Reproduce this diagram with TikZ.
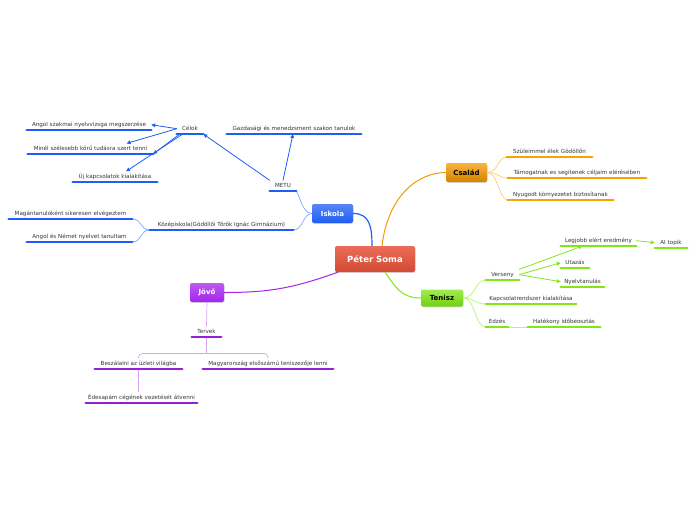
\documentclass[tikz,border=0pt]{standalone}
\usepackage{fontspec}
\setmainfont{DejaVu Sans}
\usetikzlibrary{arrows.meta,shadows}

\definecolor{peterc}{HTML}{E8533A}
\definecolor{iskolac}{HTML}{1F5EF4}
\definecolor{iskolal}{HTML}{7EA6FF}
\definecolor{csaladc}{HTML}{F79A00}
\definecolor{csaladl}{HTML}{FFCB70}
\definecolor{teniszc}{HTML}{80E614}
\definecolor{teniszl}{HTML}{B8F27E}
\definecolor{jovoc}{HTML}{A424EC}
\definecolor{jovol}{HTML}{D9A3F7}

\tikzset{
  topic/.style={rounded corners=2pt, inner sep=0pt,
    font=\fontsize{7}{8}\selectfont\bfseries,
    drop shadow={shadow xshift=0.6pt, shadow yshift=-0.8pt, opacity=0.3}},
  leaf/.style={anchor=south, inner xsep=0pt, inner ysep=2.5pt,
    text height=4.2pt, text depth=1pt, text=black!80,
    font=\fontsize{5.6}{6.5}\selectfont},
  ul/.style={line width=2.9pt, line cap=round},
  tip/.style={-{Triangle[length=4pt,width=3.6pt]}},
}

\begin{document}
\begin{tikzpicture}[x=1pt,y=-1pt]
  \useasboundingbox (0,0) rectangle (696,520);
  % main topics
  \node[topic, top color=peterc!85!white, bottom color=peterc!90!black, minimum width=80pt,
    minimum height=26pt, text=white, font=\fontsize{8.5}{9}\selectfont\bfseries] (peter) at (375,259) {Péter Soma};
  \node[topic, top color=iskolac!75!white, bottom color=iskolac, minimum width=41pt,
    minimum height=19pt, text=white] (iskola) at (332.5,213.5) {Iskola};
  \node[topic, top color=csaladc!75!white, bottom color=csaladc!85!black, minimum width=41pt,
    minimum height=19pt] (csalad) at (466.5,172.5) {Család};
  \node[topic, top color=teniszc!75!white, bottom color=teniszc!90!black, minimum width=42pt,
    minimum height=17pt] (tenisz) at (442,298) {Tenisz};
  \node[topic, top color=jovoc!75!white, bottom color=jovoc, minimum width=34pt,
    minimum height=19pt, text=white] (jovo) at (207,292.5) {Jövő};

  % Iskola
  \node[leaf, minimum width=26pt] (metu) at (283,191) {METU};
  \node[leaf, minimum width=134pt] (gazd) at (294,134) {Gazdasági és menedzsment szakon tanulok};
  \node[leaf, minimum width=26pt] (celok) at (190,134) {Célok};
  \node[leaf, minimum width=124pt] (angsz) at (89,130) {Angol szakmai nyelvvizsga megszerzése};
  \node[leaf, minimum width=125pt] (minel) at (90.5,154) {Minél szélesebb körű tudásra szert tenni};
  \node[leaf, minimum width=84pt] (ujkap) at (115,182) {Új kapcsolatok kialakítása};
  \node[leaf, minimum width=143pt] (kozep) at (221.5,230) {Középiskola(Gödöllői Török Ignác Gimnázium)};
  \node[leaf, minimum width=123pt] (magan) at (70.5,219) {Magántanulóként sikeresen elvégeztem};
  \node[leaf, minimum width=105pt] (angnem) at (79.5,242) {Angol és Német nyelvet tanultam};

  % Család
  \node[leaf, minimum width=85pt] (szul) at (549.5,157) {Szüleimmel élek Gödöllőn};
  \node[leaf, minimum width=138pt] (tamog) at (577,178) {Támogatnak es segítenek céljaim elérésében};
  \node[leaf, minimum width=105pt] (nyug) at (560.5,200) {Nyugodt környezetet biztosítanak};

  % Tenisz
  \node[leaf, minimum width=33pt] (verseny) at (502.5,280) {Verseny};
  \node[leaf, minimum width=75pt] (legjobb) at (598.5,246) {Legjobb elért eredmény};
  \node[leaf, minimum width=32pt] (aitopik) at (671,248) {AI topik};
  \node[leaf, minimum width=28pt] (utazas) at (575,268) {Utazás};
  \node[leaf, minimum width=43pt] (nyelv) at (582.5,287) {Nyelvtanulás};
  \node[leaf, minimum width=90pt] (kapcs) at (531,304) {Kapcsolatrendszer kialakítása};
  \node[leaf, minimum width=22pt] (edzes) at (497,327) {Edzés};
  \node[leaf, minimum width=72pt] (hatek) at (564,327) {Hatékony időbeosztás};

  % Jövő
  \node[leaf, minimum width=29pt] (tervek) at (206.5,337) {Tervek};
  \node[leaf, minimum width=87pt] (beszal) at (138.5,369) {Beszálalni az üzleti világba};
  \node[leaf, minimum width=111pt] (edesap) at (141.5,403) {Édesapám cégének vezetését átvenni};
  \node[leaf, minimum width=130pt] (magyar) at (268,369) {Magyarország elsőszámú teniszezője lenni};

  % main connectors
  \draw[iskolac, line width=1.2pt] (iskola.east) .. controls +(16,0) and +(0,-20) .. ([xshift=-3pt]peter.north);
  \draw[csaladc, line width=1pt] ([xshift=7pt]peter.north) .. controls +(6,-50) and +(-28,0) .. (csalad.west);
  \draw[teniszc, line width=1pt] ([xshift=10pt]peter.south) .. controls +(10,14) and +(-20,0) .. (tenisz.west);
  \draw[jovoc, line width=1pt] ([xshift=-37pt]peter.south) .. controls +(-45,16) and +(45,0) .. (jovo.east);

  % Iskola branches
  \draw[iskolal, line width=0.7pt] (iskola.west) .. controls +(-9,0) and +(4,6) .. (metu.south east);
  \draw[iskolal, line width=0.7pt] (iskola.west) .. controls +(-9,0) and +(10,0) .. (kozep.south east);
  \draw[iskolal, line width=0.7pt] (kozep.south west) .. controls +(-10,0) and +(10,0) .. (magan.south east);
  \draw[iskolal, line width=0.7pt] (kozep.south west) .. controls +(-10,0) and +(10,0) .. (angnem.south east);
  \path[tip, iskolac, line width=0.8pt] (metu.north west) edge (celok.south east)
    (metu.north) edge ([xshift=-1pt]gazd.south)
    (celok.west) edge (angsz.east)
    (celok.west) edge ([xshift=36pt]minel.north)
    ([xshift=3pt]celok.south west) edge (minel.south east)
    ([xshift=6pt]celok.south west) edge ([xshift=11pt]ujkap.north);

  % Család branches
  \draw[csaladl, line width=0.7pt] (csalad.east) .. controls +(11,0) and +(-9,0) .. (szul.south west);
  \draw[csaladl, line width=0.7pt] (csalad.east) .. controls +(11,0) and +(-9,0) .. (tamog.south west);
  \draw[csaladl, line width=0.7pt] (csalad.east) .. controls +(11,0) and +(-9,0) .. (nyug.south west);

  % Tenisz branches
  \draw[teniszl, line width=0.7pt] (tenisz.east) .. controls +(12,0) and +(-11,0) .. (verseny.south west);
  \draw[teniszl, line width=0.7pt] (tenisz.east) .. controls +(12,0) and +(-11,0) .. (kapcs.south west);
  \draw[teniszl, line width=0.7pt] (tenisz.east) .. controls +(12,0) and +(-11,0) .. (edzes.south west);
  \draw[teniszl, line width=1pt] (edzes.south east) -- (hatek.south west);
  \path[tip, teniszc, line width=0.8pt] (verseny.north east) edge ([xshift=-16pt]legjobb.south)
    (verseny.east) edge (utazas.west)
    (verseny.east) edge (nyelv.west)
    (legjobb.east) edge (aitopik.west);

  % Jövő branches
  \draw[jovol, line width=0.7pt] (jovo.south) -- (tervek.north);
  \draw[jovol, line width=0.7pt] (tervek.south) -- ++(0,16);
  \draw[jovol, line width=0.7pt, rounded corners=4pt] (beszal.north) -- ++(0,-5) -| (magyar.north);
  \draw[jovol, line width=0.7pt] (beszal.south) -- (beszal.south |- edesap.north);

  % underlines
  \path[ul, color=iskolac] (metu.south west) edge (metu.south east)
    (gazd.south west) edge (gazd.south east)  (celok.south west) edge (celok.south east)
    (angsz.south west) edge (angsz.south east)  (minel.south west) edge (minel.south east)
    (ujkap.south west) edge (ujkap.south east)  (kozep.south west) edge (kozep.south east)
    (magan.south west) edge (magan.south east)  (angnem.south west) edge (angnem.south east);
  \path[ul, color=csaladc!90!yellow] (szul.south west) edge (szul.south east)
    (tamog.south west) edge (tamog.south east)  (nyug.south west) edge (nyug.south east);
  \path[ul, color=teniszc] (verseny.south west) edge (verseny.south east)
    (legjobb.south west) edge (legjobb.south east)  (aitopik.south west) edge (aitopik.south east)
    (utazas.south west) edge (utazas.south east)  (nyelv.south west) edge (nyelv.south east)
    (kapcs.south west) edge (kapcs.south east)  (edzes.south west) edge (edzes.south east)
    (hatek.south west) edge (hatek.south east);
  \path[ul, color=jovoc!90!black] (tervek.south west) edge (tervek.south east)
    (beszal.south west) edge (beszal.south east)  (edesap.south west) edge (edesap.south east)
    (magyar.south west) edge (magyar.south east);
\end{tikzpicture}
\end{document}
